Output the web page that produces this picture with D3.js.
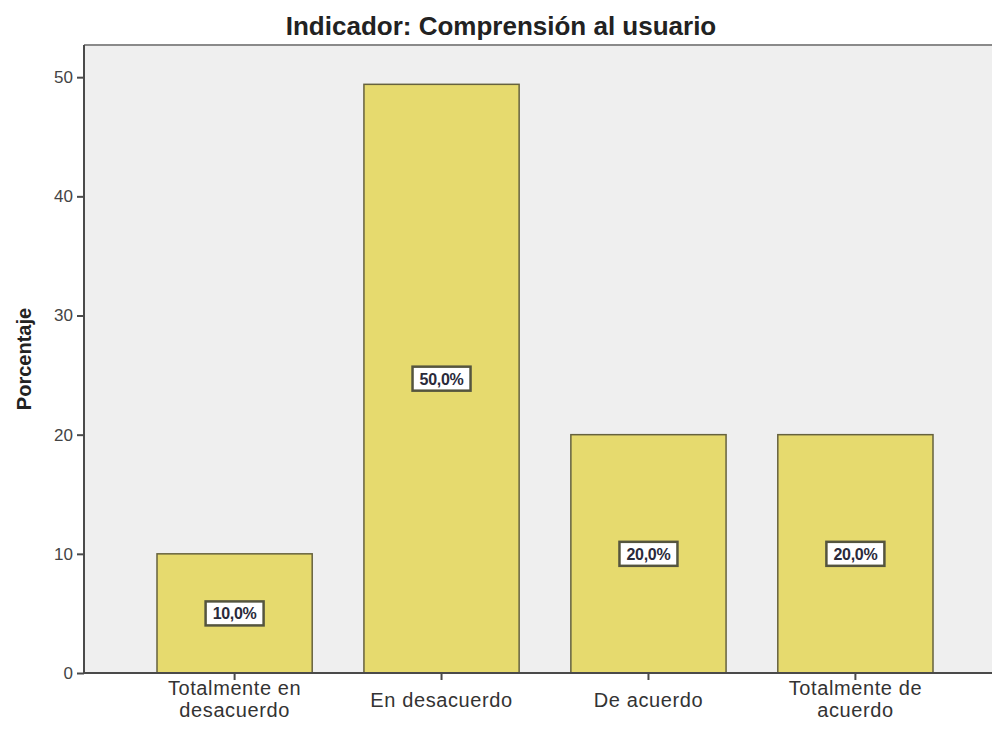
<!DOCTYPE html>
<html>
<head>
<meta charset="utf-8">
<script src="https://cdn.jsdelivr.net/npm/d3@7"></script>
<style>
  body { margin: 0; background: #fff; }
  svg { display: block; font-family: 'Liberation Sans', Arial, sans-serif; }
</style>
</head>
<body>
<svg id="chart"></svg>
<script>
// data
const categories = [
  ['Totalmente en', 'desacuerdo'],
  ['En desacuerdo'],
  ['De acuerdo'],
  ['Totalmente de', 'acuerdo'],
];
const percentages = [10, 49.4, 20, 20];
const barLabels = ['10,0%', '50,0%', '20,0%', '20,0%'];
const yTicks = [0, 10, 20, 30, 40, 50];

const cfg = {
  width: 992,
  height: 733,
  plotLeft: 84,
  plotTop: 45,
  plotBottom: 673,
  barsLeft: 157,
  barsRight: 933,
  yMax: 52.7,
  bgColor: '#efefef',
  barColor: '#e6da6e',
  barStroke: '#66623e',
  axisColor: '#4a4a4a',
  textColor: '#333',
};

const svg = d3
  .select('#chart')
  .attr('width', cfg.width)
  .attr('height', cfg.height);

// scales
const x = d3
  .scaleBand()
  .domain(d3.range(categories.length))
  .range([cfg.barsLeft, cfg.barsRight])
  .paddingInner(0.25)
  .paddingOuter(0);

const y = d3
  .scaleLinear()
  .domain([0, cfg.yMax])
  .range([cfg.plotBottom, cfg.plotTop]);

// plot background
svg
  .append('rect')
  .attr('x', cfg.plotLeft)
  .attr('y', cfg.plotTop)
  .attr('width', cfg.width - cfg.plotLeft)
  .attr('height', cfg.plotBottom - cfg.plotTop)
  .attr('fill', cfg.bgColor);

// top frame line
svg
  .append('line')
  .attr('x1', cfg.plotLeft)
  .attr('x2', cfg.width)
  .attr('y1', cfg.plotTop)
  .attr('y2', cfg.plotTop)
  .attr('stroke', '#8a8a8a')
  .attr('stroke-width', 2);

// title
svg
  .append('text')
  .text('Indicador: Comprensión al usuario')
  .attr('x', 501)
  .attr('y', 35)
  .attr('text-anchor', 'middle')
  .style('font-size', '26px')
  .style('font-weight', 'bold')
  .style('fill', '#222');

// bars
const bars = svg
  .selectAll('.bar')
  .data(percentages)
  .enter()
  .append('g')
  .classed('bar', true);

bars
  .append('rect')
  .attr('x', (d, i) => x(i))
  .attr('y', d => y(d))
  .attr('width', x.bandwidth())
  .attr('height', d => y(0) - y(d))
  .attr('fill', cfg.barColor)
  .attr('stroke', cfg.barStroke)
  .attr('stroke-width', 1.5);

// value label boxes
const boxW = 58;
const boxH = 24;
bars
  .append('rect')
  .attr('x', (d, i) => x(i) + x.bandwidth() / 2 - boxW / 2)
  .attr('y', d => (y(d) + y(0)) / 2 - boxH / 2)
  .attr('width', boxW)
  .attr('height', boxH)
  .attr('fill', '#fff')
  .attr('stroke', '#55553f')
  .attr('stroke-width', 2.5);

bars
  .append('text')
  .text((d, i) => barLabels[i])
  .attr('x', (d, i) => x(i) + x.bandwidth() / 2)
  .attr('y', d => (y(d) + y(0)) / 2 + 6)
  .attr('text-anchor', 'middle')
  .style('font-size', '16px')
  .style('letter-spacing', '-0.3px')
  .style('font-weight', '600')
  .style('fill', '#2a2a3a');

// y axis
const yAxis = svg
  .append('g')
  .attr('transform', 'translate(' + cfg.plotLeft + ',0)')
  .call(
    d3
      .axisLeft(y)
      .tickValues(yTicks)
      .tickSize(7)
      .tickPadding(4)
  );

yAxis
  .select('.domain')
  .attr('d', 'M0,' + cfg.plotTop + 'V' + cfg.plotBottom)
  .style('stroke', cfg.axisColor)
  .style('stroke-width', 2);

yAxis
  .selectAll('.tick line')
  .style('stroke', cfg.axisColor)
  .style('stroke-width', 2);

yAxis
  .selectAll('.tick text')
  .style('font-size', '17px')
  .style('font-family', "'Liberation Sans', Arial, sans-serif")
  .style('fill', '#444');

// x axis
const xAxis = svg
  .append('g')
  .attr('transform', 'translate(0,' + cfg.plotBottom + ')')
  .call(
    d3
      .axisBottom(x)
      .tickSize(7)
      .tickFormat('')
  );

xAxis
  .select('.domain')
  .attr('d', 'M' + cfg.plotLeft + ',0H' + cfg.width)
  .style('stroke', cfg.axisColor)
  .style('stroke-width', 2);

xAxis
  .selectAll('.tick line')
  .style('stroke', cfg.axisColor)
  .style('stroke-width', 2);

// category labels (one or two lines)
xAxis
  .selectAll('.tick')
  .append('text')
  .attr('text-anchor', 'middle')
  .style('font-size', '20px')
  .style('letter-spacing', '0.6px')
  .style('font-family', "'Liberation Sans', Arial, sans-serif")
  .style('fill', cfg.textColor)
  .each(function(d) {
    const lines = categories[d];
    const t = d3.select(this);
    lines.forEach((line, k) => {
      t.append('tspan')
        .attr('x', 0)
        .attr('y', lines.length > 1 ? 22 + k * 22 : 34)
        .text(line);
    });
  });

// y axis title
svg
  .append('text')
  .text('Porcentaje')
  .attr('transform', 'translate(31,' + 359 + ') rotate(-90)')
  .attr('text-anchor', 'middle')
  .style('font-size', '20px')
  .style('font-weight', 'bold')
  .style('fill', '#222');
</script>
</body>
</html>
